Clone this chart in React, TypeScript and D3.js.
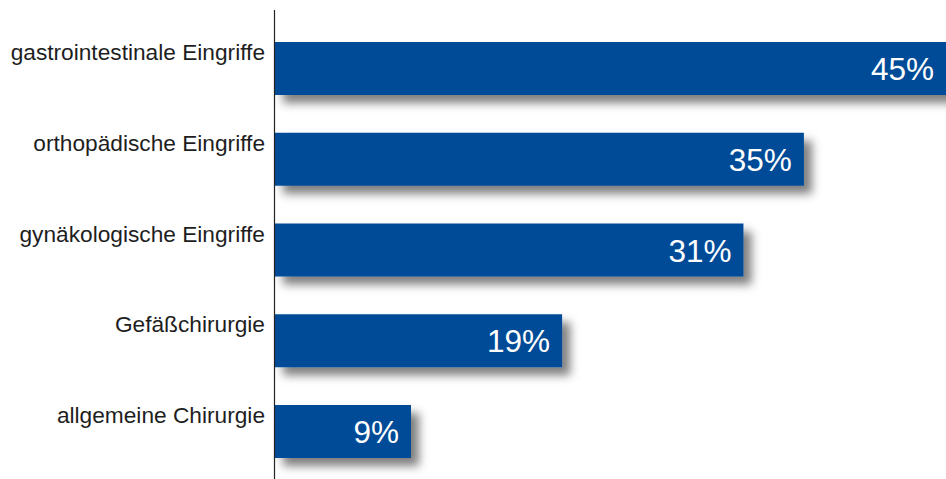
import * as d3 from 'd3';

const categories = [
  'gastrointestinale Eingriffe',
  'orthopädische Eingriffe',
  'gynäkologische Eingriffe',
  'Gefäßchirurgie',
  'allgemeine Chirurgie',
];
const shares = [45, 35, 31, 19, 9];

const width = 946;
const height = 479;
const axisX = 274.5;

export default function App() {
  const rows = categories.map((name, i) => ({ name, value: shares[i] }));

  const x = d3.scaleLinear().domain([0, 45]).range([axisX + 0.5, 955]);
  const y = d3
    .scaleBand<string>()
    .domain(categories)
    .range([42, 458])
    .paddingInner(0.416)
    .paddingOuter(0);

  return (
    <>
      <style>{`body{margin:0}`}</style>
      <svg width={width} height={height} style={{ display: 'block', fontFamily: '"Liberation Sans", Arial, sans-serif' }}>
        <defs>
          <filter id="bar-shadow" x="-10%" y="-40%" width="130%" height="200%">
            <feDropShadow dx="8" dy="8" stdDeviation="5" floodColor="#000" floodOpacity="0.5" />
          </filter>
        </defs>
        <rect width={width} height={height} fill="#fff" />

        {rows.map((row) => {
          const top = y(row.name) ?? 0;
          const bw = y.bandwidth();
          const right = Math.min(x(row.value), width);
          return (
            <g key={row.name}>
              <rect
                x={x(0)}
                y={top}
                width={x(row.value) - x(0)}
                height={bw}
                fill="#004c97"
                filter="url(#bar-shadow)"
              />
              <text
                x={right - 12}
                y={top + bw / 2 + 11.5}
                textAnchor="end"
                fill="#fff"
                fontSize={31.5}
              >
                {row.value}%
              </text>
              <text x={265} y={top + 18} textAnchor="end" fill="#1e1e1e" fontSize={22.7}>
                {row.name}
              </text>
            </g>
          );
        })}

        <line x1={axisX} x2={axisX} y1={10} y2={height} stroke="#222" strokeWidth={1.2} />
      </svg>
    </>
  );
}
